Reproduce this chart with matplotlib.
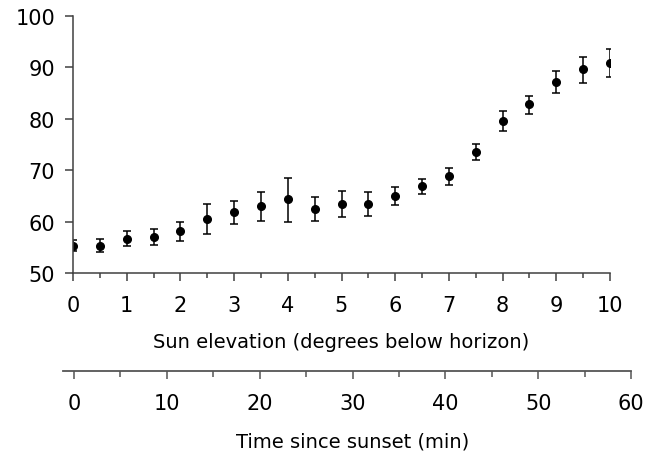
import numpy as np
import matplotlib.pyplot as plt
from matplotlib.ticker import MultipleLocator

# Datos
elevacion = np.arange(0, 10.5, 0.5)
valor = [55.3, 55.3, 56.7, 57.1, 58.2, 60.6, 61.9, 63.0, 64.3, 62.5,
         63.5, 63.4, 65.0, 66.9, 68.9, 73.6, 79.6, 82.8, 87.2, 89.6, 90.9]
err_inf = [1.1, 1.3, 1.5, 1.6, 2.0, 3.0, 2.3, 2.9, 4.4, 2.4,
           2.7, 2.3, 1.8, 1.5, 1.8, 1.6, 2.0, 1.8, 2.2, 2.6, 2.7]
err_sup = [1.1, 1.3, 1.4, 1.5, 1.7, 2.8, 2.2, 2.8, 4.2, 2.2,
           2.5, 2.3, 1.7, 1.3, 1.6, 1.5, 1.9, 1.6, 2.1, 2.5, 2.7]

y_ticks = [50, 60, 70, 80, 90, 100]
x_ticks = list(range(0, 11))
t_ticks = list(range(0, 61, 10))

plt.rcParams['font.family'] = ['DejaVu Sans']
gris = '#404040'
W, H = 653, 452

fig = plt.figure(figsize=(W / 100, H / 100), dpi=100)

# Eje principal
ax = fig.add_axes([73 / W, 1 - 274 / H, (610 - 73) / W, (274 - 17) / H])
ax.errorbar(elevacion, valor, yerr=[err_inf, err_sup], fmt='o', color='black',
            ms=5.5, elinewidth=1.1, capsize=3, capthick=1.1)
ax.set_xlim(0, 10)
ax.set_ylim(50, 100)
ax.set_yticks(y_ticks)
ax.set_xticks(x_ticks)
ax.xaxis.set_minor_locator(MultipleLocator(0.5))
for s in ['top', 'right']:
    ax.spines[s].set_visible(False)
for s in ['left', 'bottom']:
    ax.spines[s].set_color(gris)
    ax.spines[s].set_linewidth(1.1)
ax.tick_params(axis='y', length=6, width=1.1, color=gris, labelsize=15, pad=7)
ax.tick_params(axis='x', which='major', length=5.5, width=1.1, color=gris,
               labelsize=15, pad=10)
ax.tick_params(axis='x', which='minor', length=3.5, width=1.1, color=gris)
ax.patch.set_visible(False)

# Eje secundario: tiempo desde la puesta de sol
ax2 = fig.add_axes([63 / W, 1 - 372 / H, (631 - 63) / W, 1 / H])
ax2.set_xlim(-11 / 9.28, 60)
ax2.set_xticks(t_ticks)
ax2.xaxis.set_minor_locator(MultipleLocator(5))
ax2.set_yticks([])
for s in ['top', 'right', 'left']:
    ax2.spines[s].set_visible(False)
ax2.spines['bottom'].set_color('#555555')
ax2.spines['bottom'].set_linewidth(1.3)
ax2.tick_params(axis='x', which='major', length=5.5, width=1.1, color='#555555',
                labelsize=15, pad=10)
ax2.tick_params(axis='x', which='minor', length=4, width=1.1, color='#555555')
ax2.patch.set_visible(False)

fig.text((73 + 610) / 2 / W, 1 - 343 / H, 'Sun elevation (degrees below horizon)',
         ha='center', va='center', fontsize=14)
fig.text((74 + 631) / 2 / W, 1 - 442 / H, 'Time since sunset (min)',
         ha='center', va='center', fontsize=14)

fig.savefig('out.png', dpi=100)
